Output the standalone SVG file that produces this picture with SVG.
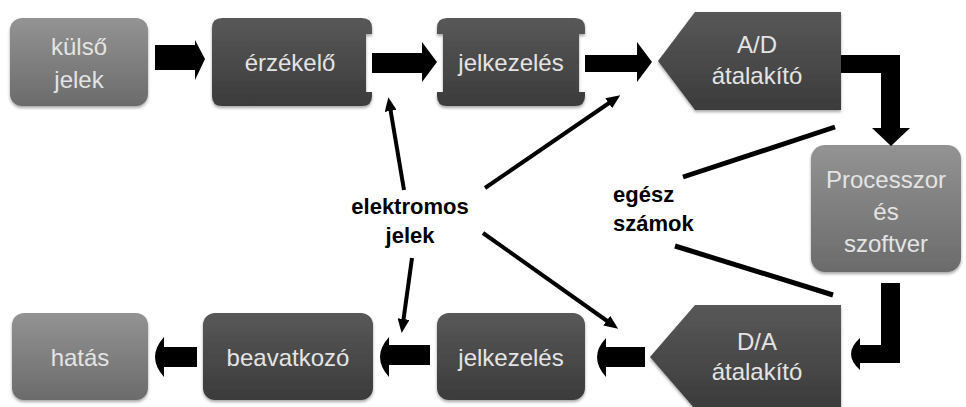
<svg xmlns="http://www.w3.org/2000/svg" width="966" height="407" viewBox="0 0 966 407">
<defs>
<linearGradient id="gDark" x1="0" y1="0" x2="0" y2="1">
<stop offset="0" stop-color="#585858"/>
<stop offset="1" stop-color="#3b3b3b"/>
</linearGradient>
<linearGradient id="gLight" x1="0" y1="0" x2="0" y2="1">
<stop offset="0" stop-color="#939393"/>
<stop offset="1" stop-color="#6b6b6b"/>
</linearGradient>
<filter id="sh" x="-10%" y="-10%" width="120%" height="130%">
<feDropShadow dx="0" dy="2" stdDeviation="1.5" flood-color="#000" flood-opacity="0.35"/>
</filter>
<marker id="ah" viewBox="0 0 14 12" refX="4" refY="6" markerWidth="14" markerHeight="12" markerUnits="userSpaceOnUse" orient="auto">
<path d="M0,0 L14,6 L0,12 Z" fill="#000"/>
</marker>
</defs>
<style>
.dark{fill:url(#gDark);filter:url(#sh)}
.light{fill:url(#gLight);filter:url(#sh)}
.bt{font-family:"Liberation Sans",Arial,sans-serif;font-size:24px;fill:#e4e4e4;text-anchor:middle}
.lbl{font-family:"Liberation Sans",Arial,sans-serif;font-size:22px;font-weight:bold;fill:#000}
.big{fill:#000}
.thin{stroke:#000;stroke-width:4;fill:none;marker-end:url(#ah)}
.thick{stroke:#000;stroke-width:5;fill:none}
</style>
<rect width="966" height="407" fill="#fff"/>

<g id="kulso">
<rect class="light" x="10" y="18" width="138" height="88" rx="12"/>
<text class="bt" x="79" y="55">külső</text>
<text class="bt" x="79" y="88">jelek</text>
</g>
<g id="erzekelo">
<path class="dark" d="M222,18 H362 Q372,18 372,28 V34 H366 V92 H372 V96 Q372,106 362,106 H222 Q212,106 212,96 V28 Q212,18 222,18 Z"/>
<text class="bt" x="290" y="71">érzékelő</text>
</g>
<g id="jelkezeles1">
<path class="dark" d="M447,18 H575 Q585,18 585,28 V34 H579 V92 H585 V96 Q585,106 575,106 H447 Q437,106 437,96 V92 H443 V34 H437 V28 Q437,18 447,18 Z"/>
<text class="bt" x="511" y="71">jelkezelés</text>
</g>
<g id="ad">
<polygon class="dark" points="658,61 695,12 841,12 841,110 695,110"/>
<text class="bt" x="757" y="53">A/D</text>
<text class="bt" x="757" y="84">átalakító</text>
</g>
<g id="processzor">
<rect class="light" x="811" y="145" width="150" height="127" rx="14"/>
<text class="bt" x="886" y="188">Processzor</text>
<text class="bt" x="886" y="220">és</text>
<text class="bt" x="886" y="252">szoftver</text>
</g>
<g id="da">
<polygon class="dark" points="650,357 695,305 841,305 841,409 695,409"/>
<text class="bt" x="757" y="350">D/A</text>
<text class="bt" x="757" y="380">átalakító</text>
</g>
<g id="jelkezeles2">
<rect class="dark" x="437" y="313" width="148" height="87" rx="12"/>
<text class="bt" x="511" y="366">jelkezelés</text>
</g>
<g id="beavatkozo">
<rect class="dark" x="203" y="313" width="170" height="87" rx="12"/>
<text class="bt" x="288" y="366">beavatkozó</text>
</g>
<g id="hatas">
<rect class="light" x="12" y="313" width="136" height="87" rx="12"/>
<text class="bt" x="80" y="366">hatás</text>
</g>

<g id="connectors">
<polygon class="big" points="155,45 195,45 195,40 205,59 195,80 195,70 155,70"/>
<polygon class="big" points="372,53 422,53 422,42 437,62 422,82 422,73 372,73"/>
<polygon class="big" points="585,55 637,55 637,42 652,62 637,82 637,72 585,72"/>
<path class="big" d="M841,55 H900 V128 H910 L891,146 L872,128 H881 V73 H841 Z"/>
<path class="big" d="M881,283 H900 V363 H860 V370 Q842,354 860,338 V345 H881 Z"/>
<path class="big" d="M645,347 H606 V338 Q588,357 606,377 V367 H645 Z"/>
<path class="big" d="M430,345 H389 V337 Q371,357 389,377 V365 H430 Z"/>
<path class="big" d="M197,347 H164 V337 Q146,357 164,377 V367 H197 Z"/>
<line class="thin" x1="404" y1="190" x2="390" y2="107"/>
<line class="thin" x1="485" y1="188" x2="612" y2="101"/>
<line class="thin" x1="483" y1="233" x2="610" y2="323"/>
<line class="thin" x1="412" y1="258" x2="403" y2="323"/>
<line class="thick" x1="683" y1="177" x2="835" y2="127"/>
<line class="thick" x1="675" y1="246" x2="833" y2="295"/>
</g>

<g id="label-elektromos">
<text class="lbl" x="410" y="214" text-anchor="middle">elektromos</text>
<text class="lbl" x="410" y="243" text-anchor="middle">jelek</text>
</g>
<g id="label-egesz">
<text class="lbl" x="613" y="202">egész</text>
<text class="lbl" x="613" y="231">számok</text>
</g>
</svg>
